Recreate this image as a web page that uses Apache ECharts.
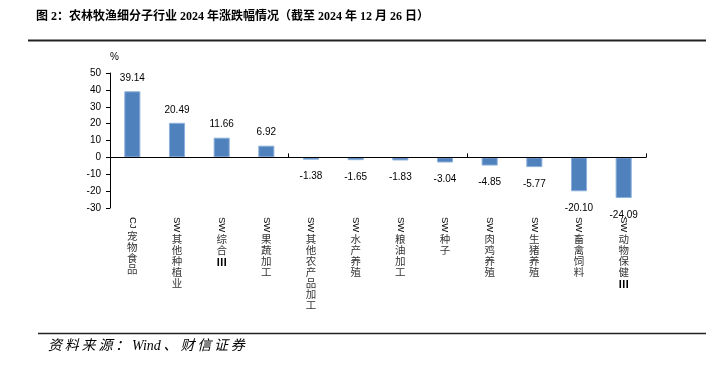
<!DOCTYPE html>
<html>
<head>
<meta charset="utf-8">
<script src="https://cdn.jsdelivr.net/npm/echarts@6/dist/echarts.min.js"></script>
<style>
html,body{margin:0;padding:0;background:#fff;}
#chart{width:716px;height:373px;}
</style>
</head>
<body>
<div id="chart"></div>
<script>
const titleText = '图 2：农林牧渔细分子行业 2024 年涨跌幅情况（截至 2024 年 12 月 26 日）';
const sourceText = '资料来源：Wind、财信证券';
const categories = ['CJ宠物食品','SW其他种植业','SW综合Ⅲ','SW果蔬加工','SW其他农产品加工','SW水产养殖','SW粮油加工','SW种子','SW肉鸡养殖','SW生猪养殖','SW畜禽饲料','SW动物保健Ⅲ'];
const values = [39.14,20.49,11.66,6.92,-1.38,-1.65,-1.83,-3.04,-4.85,-5.77,-20.10,-24.09];
const yMin = -30, yMax = 50, yStep = 10;
const yUnit = '%';

const latinFont = '9.5px "Liberation Sans", Arial, sans-serif';
const measureCtx = document.createElement('canvas').getContext('2d');
measureCtx.font = latinFont;

function prefixOf(s){ const m = s.match(/^[A-Za-z]+/); return m ? m[0] : ''; }
function restOf(s){ return s.slice(prefixOf(s).length); }
function gapOf(s){ return Math.max(1, Math.round(measureCtx.measureText(prefixOf(s)).width) + 1); }

const chart = echarts.init(document.getElementById('chart'), null, {renderer:'canvas'});

const spacedSource = sourceText.split('').join('\u2009').replace(/W\u2009i\u2009n\u2009d/, 'Wind');

const cjkRich = {
  c: {fontSize: 10.5, lineHeight: 11, color: '#333', fontFamily: '"Noto Sans CJK SC", sans-serif'},
  r: {fontSize: 10.5, lineHeight: 12, color: '#000', fontWeight: 'bold', fontFamily: '"Noto Sans CJK SC", sans-serif'}
};
categories.forEach(v => { cjkRich['g' + gapOf(v)] = {lineHeight: gapOf(v), fontSize: 1}; });

const option = {
  backgroundColor: '#fff',
  animation: false,
  grid: {left: 110, right: 70, top: 73, bottom: 165, containLabel: false, outerBoundsMode: 'none'},
  xAxis: [
    {
      type: 'category', data: categories, position: 'bottom', z: 5,
      axisLine: {show: true, onZero: true, lineStyle: {color: '#000', width: 1}},
      axisTick: {show: true, inside: true, length: 4, lineStyle: {color: '#000'}},
      axisLabel: {show: false},
      splitLine: {show: false}
    },
    {
      type: 'category', data: categories, position: 'bottom',
      axisLine: {show: false, onZero: false},
      axisTick: {show: false},
      splitLine: {show: false},
      axisLabel: {
        show: true, interval: 0, rotate: -90, margin: 9,
        fontSize: 9.5, fontFamily: '"Liberation Sans", Arial, sans-serif', color: '#000',
        formatter: v => prefixOf(v)
      }
    },
    {
      type: 'category', data: categories, position: 'bottom',
      axisLine: {show: false, onZero: false},
      axisTick: {show: false},
      splitLine: {show: false},
      axisLabel: {
        show: true, interval: 0, margin: 10,
        fontSize: 10.5, lineHeight: 11, color: '#333',
        fontFamily: '"Noto Sans CJK SC", sans-serif',
        formatter: v => {
          const chars = restOf(v).split('').map(c => c === 'Ⅲ' ? '{r|' + c + '}' : '{c|' + c + '}');
          return '{g' + gapOf(v) + '| }\n' + chars.join('\n');
        },
        rich: cjkRich
      }
    }
  ],
  yAxis: {
    type: 'value', min: yMin, max: yMax, interval: yStep,
    name: yUnit, nameLocation: 'end', nameGap: 11,
    nameTextStyle: {align: 'left', fontSize: 10, color: '#000', fontFamily: '"Liberation Sans", Arial, sans-serif'},
    axisLine: {show: true, lineStyle: {color: '#000', width: 1}},
    axisTick: {show: true, inside: false, length: 4, lineStyle: {color: '#000'}},
    axisLabel: {margin: 9, fontSize: 10, color: '#000', fontFamily: '"Liberation Sans", Arial, sans-serif'},
    splitLine: {show: false}
  },
  series: [{
    type: 'bar', xAxisIndex: 0, barWidth: '36%',
    data: values.map(v => ({value: v, label: v < 0 ? {position: 'bottom', distance: 12} : {position: 'top', distance: 8}})),
    itemStyle: {color: '#4F81BD', borderColor: '#8DB0DC', borderWidth: 1},
    label: {
      show: true, fontSize: 10, color: '#000',
      fontFamily: '"Liberation Sans", Arial, sans-serif',
      formatter: p => p.value.toFixed(2)
    }
  }],
  graphic: [
    {type: 'text', left: 36, top: 11, style: {text: titleText, fill: '#000', font: 'bold 12px "Liberation Serif", "Noto Sans CJK SC", serif'}},
    {type: 'line', shape: {x1: 28, y1: 40.5, x2: 706, y2: 40.5}, style: {stroke: '#222', lineWidth: 2}},
    {type: 'line', shape: {x1: 38, y1: 333.5, x2: 706, y2: 333.5}, style: {stroke: '#222', lineWidth: 1.5}},
    {type: 'text', left: 48, top: 339, style: {text: spacedSource, fill: '#000', font: 'italic 14px "Liberation Serif", "Noto Sans CJK SC", serif'}}
  ]
};

chart.setOption(option);
</script>
</body>
</html>
